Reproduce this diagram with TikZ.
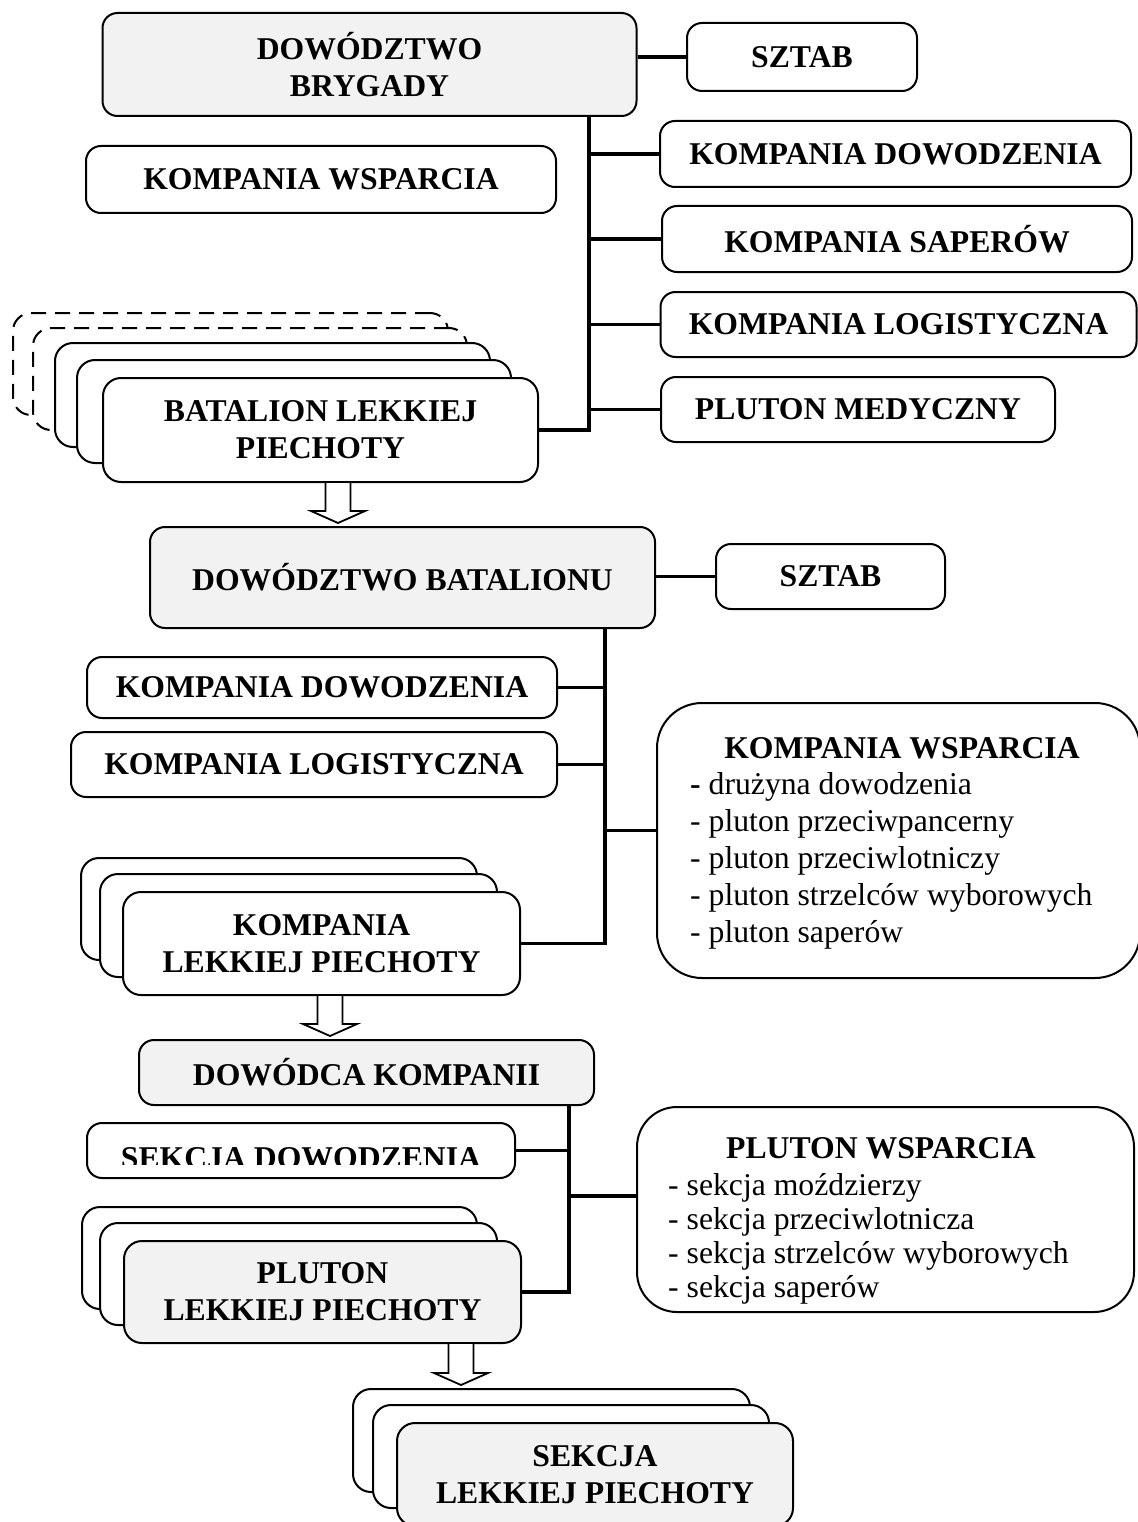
\documentclass[tikz,border=0pt]{standalone}
\usepackage{fontspec}
\setmainfont{Liberation Serif}
\usepackage{tikz}
\usetikzlibrary{calc}
\definecolor{hqgray}{HTML}{F2F2F2}
\newcommand{\chartfont}{\fontsize{31.7}{37}\selectfont}
\tikzstyle{unitbox} = [draw, line width=2pt, rounded corners=15pt, fill=white, inner sep=0pt, align=center, font=\chartfont\bfseries]
\tikzstyle{hqbox} = [unitbox, fill=hqgray]
\tikzstyle{backbox} = [unitbox, rounded corners=18pt]
\tikzstyle{ghostbox} = [backbox, dash pattern=on 15pt off 9pt]
\tikzstyle{listbox} = [draw, line width=2pt, rounded corners=45pt, fill=white, inner sep=0pt]
\tikzstyle{ltitle} = [anchor=base, inner sep=0pt, font=\chartfont\bfseries]
\tikzstyle{litem} = [anchor=base west, inner sep=0pt, font=\chartfont]
\tikzstyle{line} = [draw, line width=3.5pt]
\tikzstyle{hollow} = [draw, line width=1.8pt, fill=white, line join=miter]
\newcommand{\hollowarrow}[3]{%
  \coordinate (ha-s) at (#3,0 |- #1.south);
  \coordinate (ha-e) at (#3,0 |- #2.north);
  \path [hollow] ($(ha-s)+(-12.5,0)$) -- ($(ha-e)+(-12.5,-15)$) -- ($(ha-e)+(-27,-15)$)
    -- ($(ha-e)+(0,-3)$) -- ($(ha-e)+(27,-15)$) -- ($(ha-e)+(12.5,-15)$) -- ($(ha-s)+(12.5,0)$);
}

\begin{document}
\begin{tikzpicture}[x=1pt, y=-1pt]
			\useasboundingbox (0,0) rectangle (1137,1522);

			% brygada
			\node [hqbox, minimum width=534pt, minimum height=103pt] (bde) at (369.5,64.5) {DOWÓDZTWO\\BRYGADY};
			\node [unitbox, minimum width=230pt, minimum height=68pt] (bdesztab) at (802,57) {SZTAB};
			\node [unitbox, minimum width=470pt, minimum height=67pt] (bdekw) at (321,179.5) {KOMPANIA WSPARCIA};
			\node [unitbox, minimum width=471pt, minimum height=66pt] (bdekd) at (895.5,154) {KOMPANIA DOWODZENIA};
			\node [unitbox, minimum width=470pt, minimum height=66pt] (bdeks) at (897,239) {KOMPANIA SAPERÓW};
			\node [unitbox, minimum width=476pt, minimum height=65pt] (bdekl) at (898.5,324.5) {KOMPANIA LOGISTYCZNA};
			\node [unitbox, minimum width=394pt, minimum height=65pt] (bdepm) at (858,409.5) {PLUTON MEDYCZNY};

			\node [ghostbox, minimum width=435pt, minimum height=102pt] (bat5) at (230.5,364) {};
			\node [ghostbox, minimum width=434pt, minimum height=102pt] (bat4) at (250,379) {};
			\node [backbox, minimum width=435pt, minimum height=104pt] (bat3) at (272.5,395) {};
			\node [backbox, minimum width=434pt, minimum height=103pt] (bat2) at (294,411.5) {};
			\node [backbox, minimum width=435pt, minimum height=104pt] (bat1) at (320.5,430) {BATALION LEKKIEJ\\PIECHOTY};

			\coordinate (bdebus) at (589,0);
			\path [line] (bde.east |- bdesztab.west) -- (bdesztab.west);
			\path [line] (bdebus |- bde.south) -- (bdebus |- bat1.east) -- (bat1.east);
			\path [line] (bdebus |- bdekd.west) -- (bdekd.west);
			\path [line] (bdebus |- bdeks.west) -- (bdeks.west);
			\path [line] (bdebus |- bdekl.west) -- (bdekl.west);
			\path [line] (bdebus |- bdepm.west) -- (bdepm.west);

			% batalion
			\node [hqbox, minimum width=505pt, minimum height=101pt] (bn) at (402.5,577.5) {DOWÓDZTWO BATALIONU};
			\node [unitbox, minimum width=229pt, minimum height=65pt] (bnsztab) at (830.5,576.5) {SZTAB};
			\node [unitbox, minimum width=470pt, minimum height=61pt] (bnkd) at (322,687.5) {KOMPANIA DOWODZENIA};
			\node [unitbox, minimum width=486pt, minimum height=65pt] (bnkl) at (314,764.5) {KOMPANIA LOGISTYCZNA};
			\node [listbox, minimum width=483pt, minimum height=275pt] (bnkw) at (898.5,840.5) {};
			\node [ltitle] (bnkwtitle) at (902,758) {KOMPANIA WSPARCIA};
			\foreach \txt [count=\i] in {{\textbf{-} drużyna dowodzenia}, {- pluton przeciwpancerny}, {- pluton przeciwlotniczy}, {- pluton strzelców wyborowych}, {- pluton saperów}}
				\node [litem] (bnkw-\i) at (690,758+36.8*\i) {\txt};

			\node [backbox, minimum width=396pt, minimum height=102pt] (kp3) at (279,909) {};
			\node [backbox, minimum width=397pt, minimum height=103pt] (kp2) at (298.5,925.5) {};
			\node [backbox, minimum width=397pt, minimum height=103pt] (kp1) at (321.5,943.5) {KOMPANIA\\LEKKIEJ PIECHOTY};

			\coordinate (bnbus) at (605,0);
			\path [line] (bn.east |- bnsztab.west) -- (bnsztab.west);
			\path [line] (bnbus |- bn.south) -- (bnbus |- kp1.east) -- (kp1.east);
			\path [line] (bnkd.east) -- (bnkd.east -| bnbus);
			\path [line] (bnkl.east) -- (bnkl.east -| bnbus);
			\path [line] (bnbus |- bnkw.west) ++(0,-10) -- ([yshift=10pt]bnkw.west);

			\hollowarrow{bat1}{bn}{338}

			% kompania
			\node [hqbox, minimum width=455pt, minimum height=65pt] (dk) at (366.5,1072.5) {DOWÓDCA KOMPANII};
			\node [unitbox, minimum width=428pt, minimum height=55pt] (sd) at (301,1150.5) {};
			\begin{scope}
				\clip (88,1121) rectangle (514,1164);
				\node [ltitle] (sdtext) at (301,1168) {SEKCJA DOWODZENIA};
			\end{scope}
			\node [listbox, rounded corners=40pt, minimum width=497pt, minimum height=205pt] (pw) at (885.5,1209.5) {};
			\node [ltitle] (pwtitle) at (881,1158) {PLUTON WSPARCIA};
			\foreach \txt [count=\i] in {{- sekcja moździerzy}, {- sekcja przeciwlotnicza}, {- sekcja strzelców wyborowych}, {- sekcja saperów}}
				\node [litem] (pw-\i) at (668,1161+34*\i) {\txt};

			\node [backbox, minimum width=395pt, minimum height=102pt] (pl3) at (279.5,1258) {};
			\node [backbox, minimum width=397pt, minimum height=102pt] (pl2) at (298.5,1274) {};
			\node [backbox, fill=hqgray, minimum width=397pt, minimum height=102pt] (pl1) at (322.5,1292) {PLUTON\\LEKKIEJ PIECHOTY};

			\coordinate (dkbus) at (569,0);
			\path [line] (dkbus |- dk.south) -- (dkbus |- pl1.east) -- (pl1.east);
			\path [line] (sd.east) -- (sd.east -| dkbus);
			\path [line] (dkbus |- pw.west) ++(0,-13.5) -- ([yshift=13.5pt]pw.west);

			\hollowarrow{kp1}{dk}{330}

			% pluton
			\node [backbox, minimum width=397pt, minimum height=103pt] (sk3) at (551.5,1440.5) {};
			\node [backbox, minimum width=396pt, minimum height=103pt] (sk2) at (571,1456.5) {};
			\node [backbox, fill=hqgray, minimum width=396pt, minimum height=103pt] (sk1) at (595,1474.5) {SEKCJA\\LEKKIEJ PIECHOTY};

			\hollowarrow{pl1}{sk3}{461}
		\end{tikzpicture}
\end{document}
